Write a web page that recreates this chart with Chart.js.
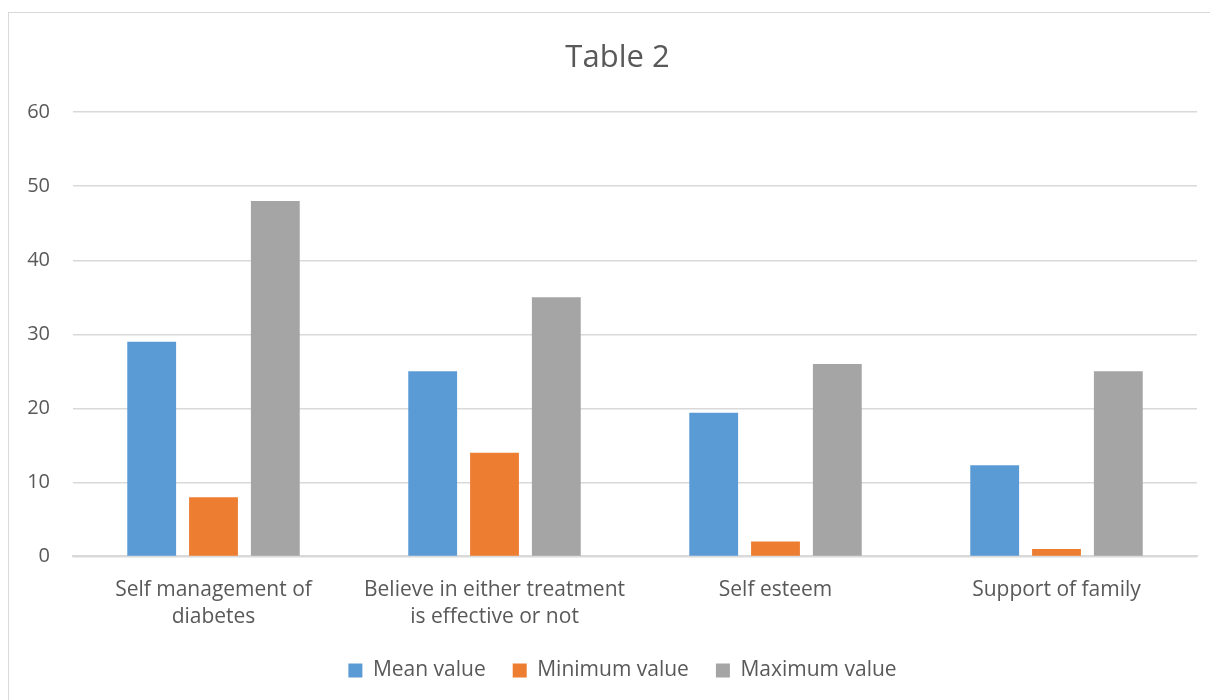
<!DOCTYPE html>
<html>
<head>
<meta charset="utf-8">
<script src="https://cdn.jsdelivr.net/npm/chart.js@4/dist/chart.umd.min.js"></script>
<style>
  body { margin: 0; background: #fff; }
  #wrap { position: relative; width: 1210px; height: 700px; overflow: hidden; }
  #frame { position: absolute; left: 8px; top: 12px; width: 1210px; height: 700px; border: 1px solid #d9d9d9; box-sizing: border-box; }
  canvas { position: absolute; left: 0; top: 0; }
</style>
</head>
<body>
<div id="wrap">
  <div id="frame"></div>
  <canvas id="table2" width="1210" height="700"></canvas>
</div>
<script>
'use strict';

// categories and series
const categories = [
    ['Self management of', 'diabetes'],
    ['Believe in either treatment', 'is effective or not'],
    'Self esteem',
    'Support of family'
];
const meanValues = [29, 25, 19.4, 12.3];
const minValues = [8, 14, 2, 1];
const maxValues = [48, 35, 26, 25];
const yTicks = [0, 10, 20, 30, 40, 50, 60];

const textColor = '#595959';
const fontFamily = '"Open Sans", Lato, sans-serif';

// nudge title and legend to where the original has them
const nudgeBlocks = {
    id: 'nudgeBlocks',
    afterLayout(chart) {
        chart.titleBlock.left += 9;
        chart.titleBlock.right += 9;
    },
    beforeDraw(chart) {
        const lg = chart.legend;
        lg.top -= 10;
        lg.bottom -= 10;
        lg.left += 14;
        lg.right += 14;
    }
};

const chart = new Chart('table2', {
    type: 'bar',
    data: {
        labels: categories,
        datasets: [{
            label: 'Mean value',
            data: meanValues,
            backgroundColor: '#5b9bd5'
        }, {
            label: 'Minimum value',
            data: minValues,
            backgroundColor: '#ed7d31'
        }, {
            label: 'Maximum value',
            data: maxValues,
            backgroundColor: '#a5a5a5'
        }]
    },
    options: {
        responsive: false,
        animation: false,
        layout: {padding: {left: 20, right: 13, top: 38, bottom: -1}},
        datasets: {bar: {barPercentage: 0.79, categoryPercentage: 0.66}},
        plugins: {
            title: {
                display: true,
                text: 'Table 2',
                color: textColor,
                font: {family: fontFamily, size: 31, weight: 'normal'},
                padding: {top: 2, bottom: 35}
            },
            legend: {
                position: 'bottom',
                labels: {
                    color: textColor,
                    font: {family: fontFamily, size: 21},
                    boxWidth: 14,
                    boxHeight: 14,
                    padding: 27
                }
            },
            tooltip: {enabled: false}
        },
        scales: {
            x: {
                grid: {display: false},
                border: {color: '#d9d9d9', width: 2},
                ticks: {color: textColor, font: {family: fontFamily, size: 21, lineHeight: 1.3}, padding: 12}
            },
            y: {
                min: 0,
                max: 60,
                afterBuildTicks: (axis) => { axis.ticks = yTicks.map(v => ({value: v})); },
                afterFit: (axis) => { axis.width = 53; },
                grid: {color: '#d9d9d9', lineWidth: 1.5, drawTicks: false},
                border: {display: false},
                ticks: {color: textColor, font: {family: fontFamily, size: 20}, padding: 23}
            }
        }
    },
    plugins: [nudgeBlocks]
});
</script>
</body>
</html>
